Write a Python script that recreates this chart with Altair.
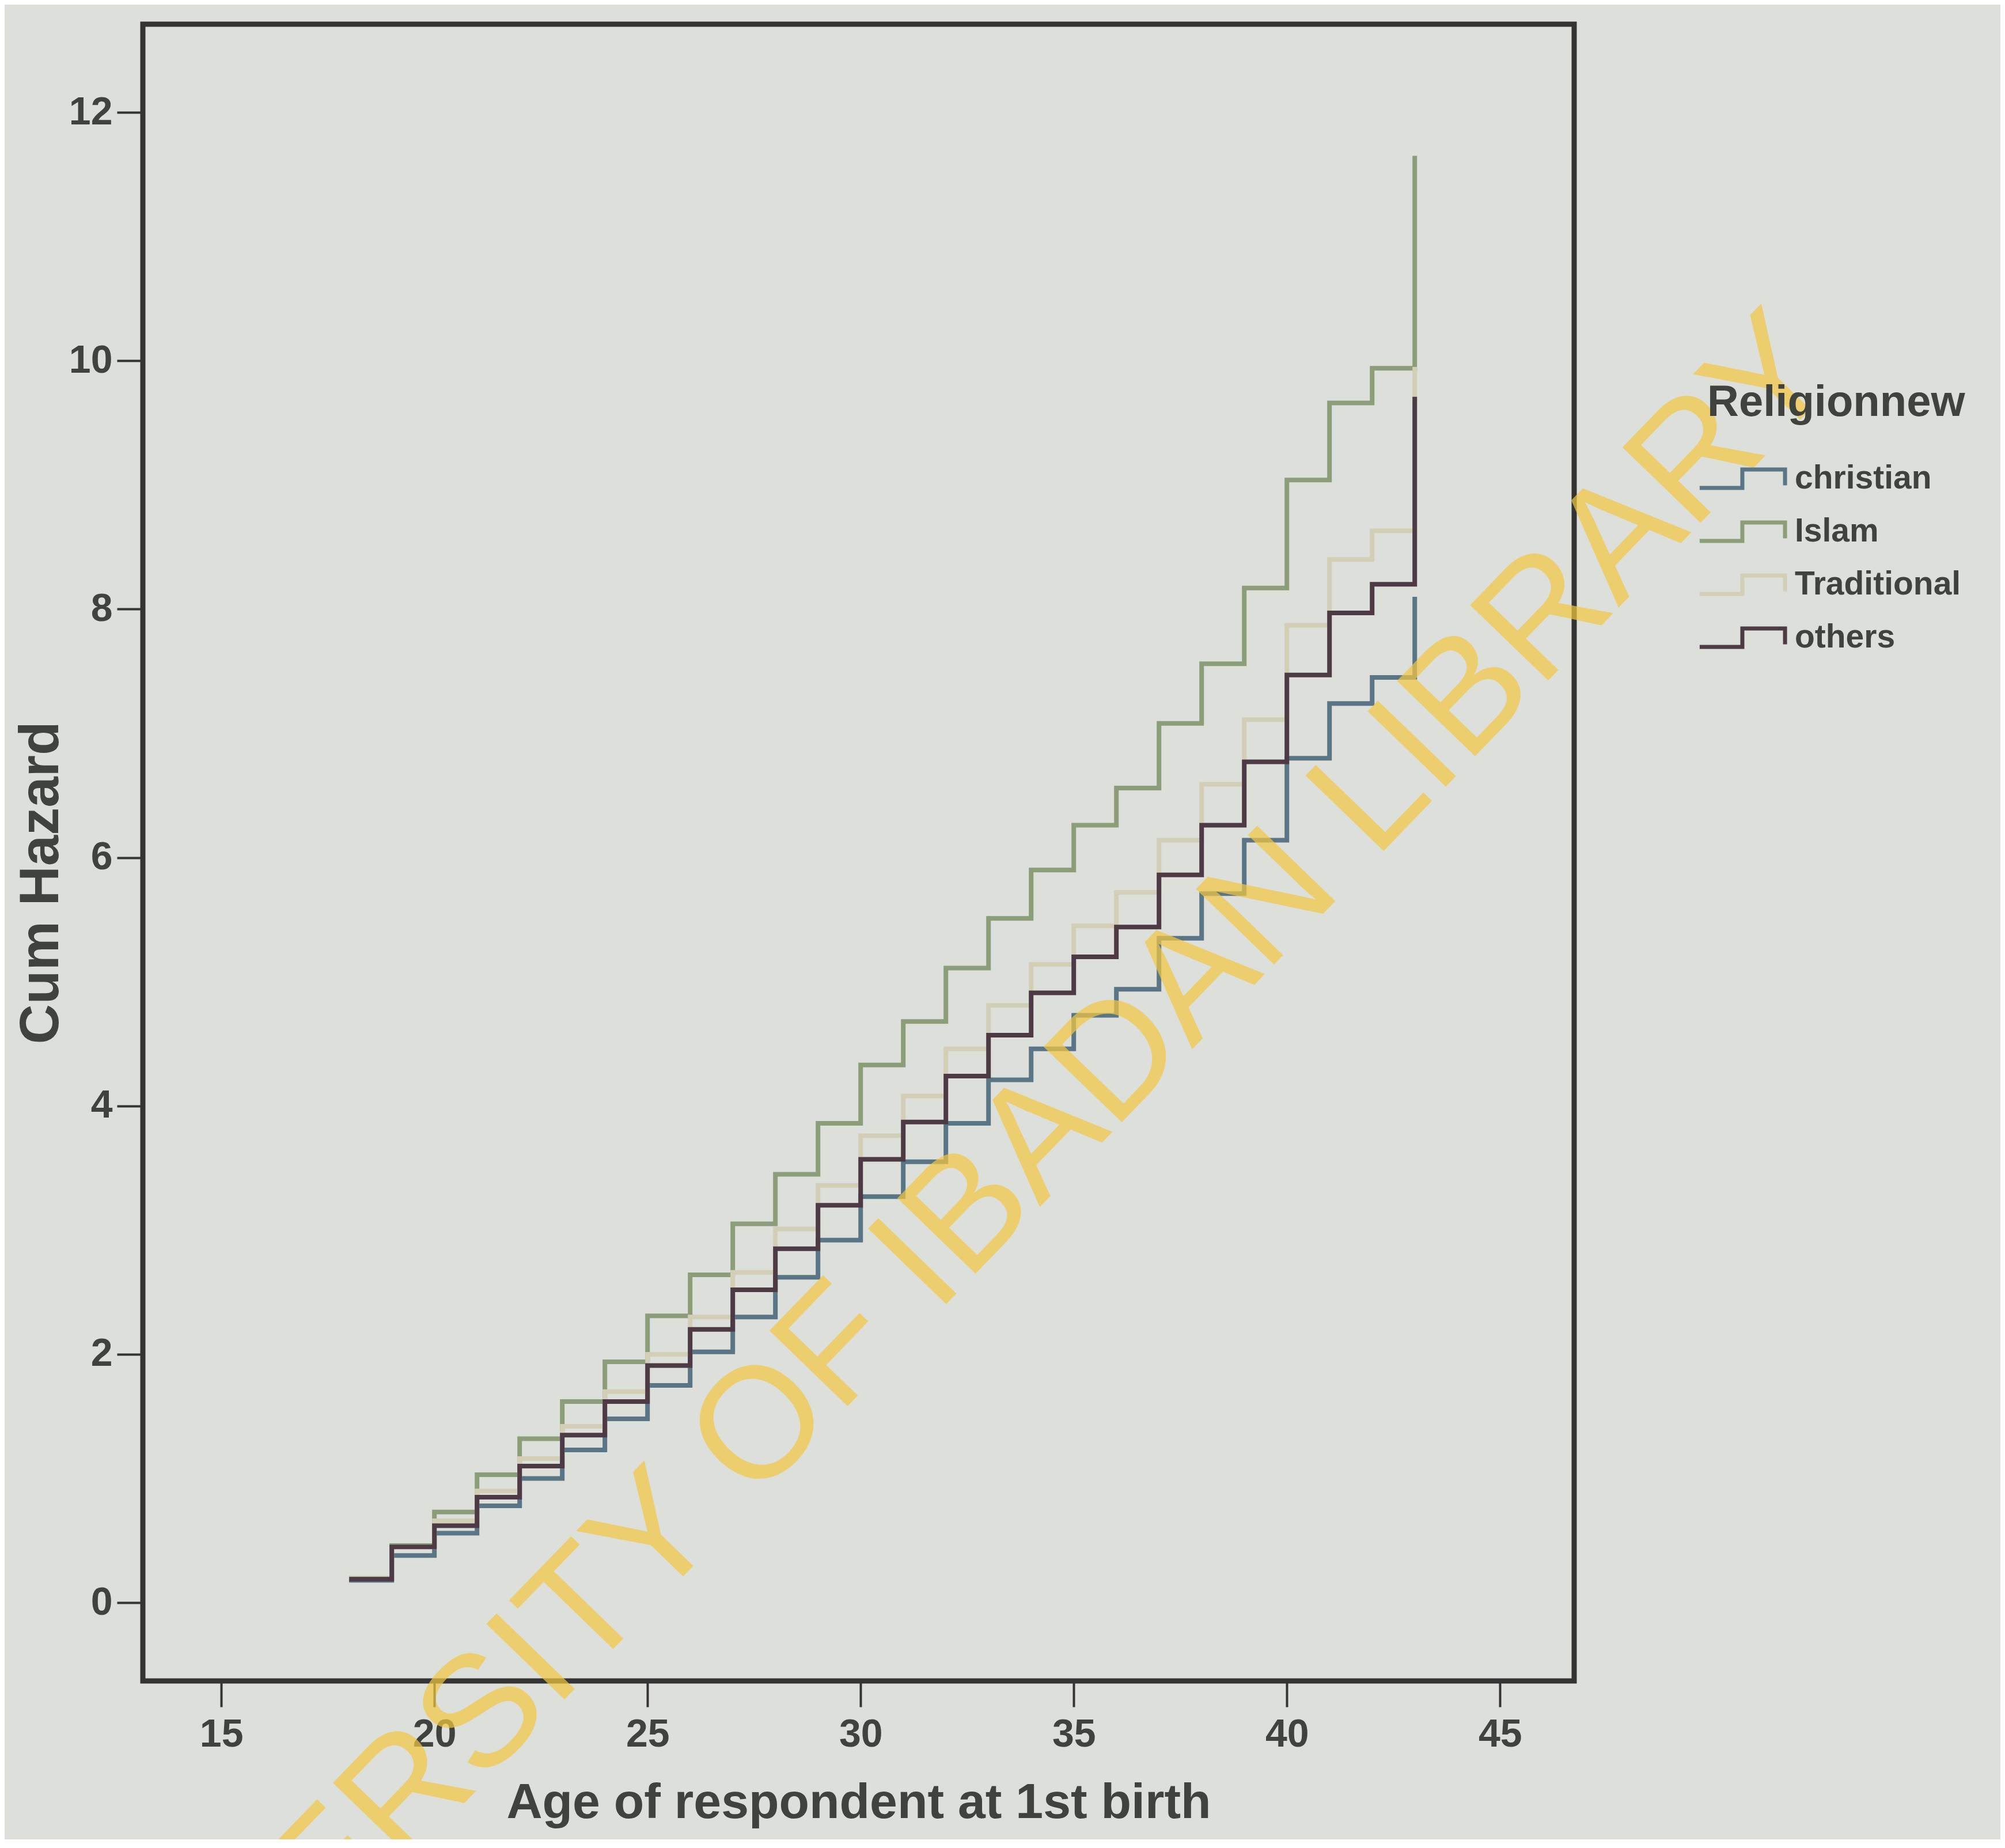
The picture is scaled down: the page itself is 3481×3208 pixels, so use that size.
import altair as alt
import pandas as pd

# ---- data (cumulative hazard by age at 1st birth) ----
ages = list(range(18, 44))
christian = [0.18, 0.38, 0.56, 0.78, 1.00, 1.23, 1.48, 1.75, 2.02, 2.30, 2.62, 2.92, 3.27,
             3.55, 3.86, 4.21, 4.46, 4.73, 4.94, 5.35, 5.71, 6.14, 6.80, 7.24, 7.45, 8.10]
islam = [0.20, 0.46, 0.73, 1.03, 1.32, 1.62, 1.94, 2.31, 2.64, 3.05, 3.45, 3.86, 4.33,
         4.68, 5.11, 5.51, 5.90, 6.26, 6.56, 7.08, 7.56, 8.17, 9.04, 9.66, 9.94, 11.65]
traditional = [0.20, 0.45, 0.66, 0.90, 1.16, 1.42, 1.70, 2.00, 2.30, 2.66, 3.01, 3.36, 3.76,
               4.08, 4.46, 4.81, 5.14, 5.45, 5.72, 6.14, 6.59, 7.11, 7.87, 8.40, 8.63, 9.95]
others = [0.19, 0.45, 0.62, 0.85, 1.10, 1.35, 1.62, 1.91, 2.20, 2.52, 2.85, 3.20, 3.57,
          3.87, 4.24, 4.57, 4.91, 5.20, 5.44, 5.86, 6.26, 6.77, 7.47, 7.97, 8.20, 9.71]

groups = ["christian", "Islam", "Traditional", "others"]
colors = ["#5a7585", "#8b9e79", "#d3cfb6", "#4e3a45"]
x_ticks = [15, 20, 25, 30, 35, 40, 45]
y_ticks = [0, 2, 4, 6, 8, 10, 12]
watermark = ["UNIVERSITY OF IBADAN LIBRARY"]

rows = []
for g, vals in zip(groups, [christian, islam, traditional, others]):
    for a, v in zip(ages, vals):
        rows.append({"age": a, "hazard": v, "group": g})
df = pd.DataFrame(rows)

FONT = "Liberation Sans"
TXT = "#40423e"
step_symbol = "M-1.3,0.28L0,0.28L0,-0.28L1.3,-0.28L1.3,0.2"

lines = alt.Chart(df).mark_line(
    interpolate="step-after", strokeWidth=8, strokeJoin="miter"
).encode(
    x=alt.X("age:Q",
            scale=alt.Scale(domain=[13.16, 46.74], nice=False, zero=False),
            axis=alt.Axis(values=x_ticks, title="Age of respondent at 1st birth",
                          labelPadding=14, titlePadding=42, titleFontSize=86,
                          format="d")),
    y=alt.Y("hazard:Q",
            scale=alt.Scale(domain=[-0.63, 12.71], nice=False, zero=False),
            axis=alt.Axis(values=y_ticks, title="Cum Hazard",
                          labelPadding=8, titleFontSize=96,
                          titleX=-128, titleY=1490, format="d")),
    color=alt.Color("group:N",
                    scale=alt.Scale(domain=groups, range=colors),
                    sort=groups,
                    legend=alt.Legend(
                        title="Religionnew", orient="none",
                        legendX=2716, legendY=620,
                        symbolType=step_symbol, symbolSize=13000,
                        symbolStrokeWidth=7, rowPadding=1,
                        titlePadding=32, labelOffset=30,
                        labelLimit=2000, titleLimit=2000)),
)

wm = alt.Chart(pd.DataFrame({"t": watermark})).mark_text(
    angle=314, fontSize=274, font=FONT, color="#f5c842", opacity=0.7,
    align="center", baseline="middle"
).encode(text="t:N", x=alt.value(1350), y=alt.value(2150))

chart = alt.layer(lines, wm).properties(
    width=2485, height=2876,
    padding={"left": 240, "top": 34, "right": 740, "bottom": 275},
    autosize=alt.AutoSizeParams(type="none"),
    background="#dddfdb",
).configure_view(
    stroke="#343434", strokeWidth=9, fill="#dddfdb"
).configure_axis(
    domain=False, grid=False, ticks=True, tickSize=45, tickWidth=4,
    tickColor="#343434",
    labelFont=FONT, labelFontSize=68, labelFontWeight="bold", labelColor=TXT,
    titleFont=FONT, titleFontWeight="bold", titleColor=TXT,
).configure_legend(
    titleFont=FONT, titleFontSize=76, titleFontWeight="bold", titleColor=TXT,
    labelFont=FONT, labelFontSize=57, labelFontWeight="bold", labelColor=TXT,
)

chart.save("out.html", embed_options={"renderer": "svg", "actions": False})
